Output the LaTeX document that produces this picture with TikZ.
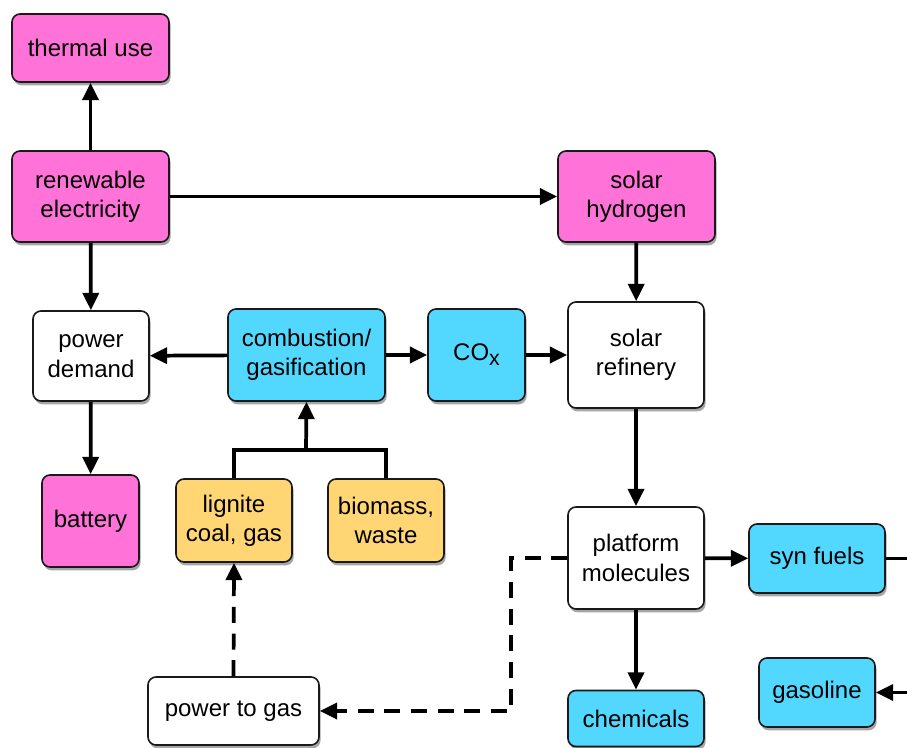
\documentclass[tikz,border=0pt]{standalone}
\usepackage{fontspec}
\setmainfont{Liberation Sans}
\usetikzlibrary{arrows.meta,shadows}
\definecolor{cpink}{HTML}{FF73D9}
\definecolor{ccyan}{HTML}{52D8FF}
\definecolor{cyell}{HTML}{FFD673}
\begin{document}
\begin{tikzpicture}[x=0.75pt,y=-0.75pt,
  box/.style={draw=black!90, line width=1.2pt, rounded corners=6pt, align=center, inner sep=0pt,
     font=\fontsize{18}{22}\selectfont,
     drop shadow={shadow xshift=1.2pt, shadow yshift=-2.5pt, opacity=0.35, fill=black}},
  conn/.style={line width=2.8pt, draw=black},
  arr/.style={conn, -{Triangle[length=13pt,width=12pt]}},
  darr/.style={arr, dash pattern=on 12pt off 8pt}]
\useasboundingbox (0,0) rectangle (907,748);
\fill[white] (0,0) rectangle (907,748);
% nodes
\node[box, fill=cpink, minimum width=117.75pt, minimum height=51pt] (therm) at (90.5,48) {thermal use};
\node[box, fill=cpink, minimum width=117.75pt, minimum height=68.25pt] (renew) at (90.5,196.5) {renewable\\electricity};
\node[box, fill=cpink, minimum width=117.75pt, minimum height=68.25pt] (hydro) at (636.5,196.5) {solar\\hydrogen};
\node[box, fill=white, minimum width=87pt, minimum height=67.5pt] (pdem) at (91,356) {power\\demand};
\node[box, fill=ccyan, minimum width=117.75pt, minimum height=69pt] (comb) at (306.5,355) {combustion/\\gasification};
\node[box, fill=ccyan, minimum width=72.75pt, minimum height=69pt] (cox) at (476.5,355) {CO\raisebox{-0.4ex}{\fontsize{16}{16}\selectfont x}};
\node[box, fill=white, minimum width=102pt, minimum height=79.5pt] (refin) at (636,355) {solar\\refinery};
\node[box, fill=cpink, minimum width=72.75pt, minimum height=69pt] (batt) at (90.5,521) {battery};
\node[box, fill=cyell, minimum width=87pt, minimum height=62.25pt] (lign) at (234,520.5) {lignite\\coal, gas};
\node[box, fill=cyell, minimum width=87pt, minimum height=62.25pt] (biom) at (386,520.5) {biomass,\\waste};
\node[box, fill=white, minimum width=102pt, minimum height=76.5pt] (plat) at (636,558) {platform\\molecules};
\node[box, fill=ccyan, minimum width=102pt, minimum height=51.75pt] (syn) at (817,558.5) {syn fuels};
\node[box, fill=ccyan, minimum width=87pt, minimum height=51.75pt] (gaso) at (817,692.5) {gasoline};
\node[box, fill=ccyan, minimum width=102pt, minimum height=42pt] (chem) at (636,718.5) {chemicals};
\node[box, fill=white, minimum width=128.25pt, minimum height=51pt] (p2g) at (233.5,711) {power to gas};
% coordinates
\coordinate (join) at (306,450);
\coordinate (synout) at (907,558.5);
\coordinate (gasin) at (907,692.5);
% connectors
\draw[arr] (renew) -- (therm);
\draw[arr] (renew) -- (hydro);
\draw[arr] (renew) -- (pdem);
\draw[arr] (hydro) -- (refin);
\draw[arr] (comb) -- (pdem);
\draw[arr] (comb) -- (cox);
\draw[arr] (cox) -- (refin);
\draw[arr] (pdem) -- (batt);
\draw[conn] (lign.north) |- (join) -| (biom.north);
\draw[arr] (join) -- (comb.south);
\draw[arr] (refin) -- (plat);
\draw[arr] (plat) -- (syn);
\draw[arr] (plat) -- (chem);
\draw[conn] (syn.east) -- (synout);
\draw[arr] (gasin) -- (gaso.east);
\draw[darr] (plat.west) -- ++(-56,0) |- (p2g.east);
\draw[darr] (p2g.north) -- (lign.south);
\end{tikzpicture}
\end{document}
